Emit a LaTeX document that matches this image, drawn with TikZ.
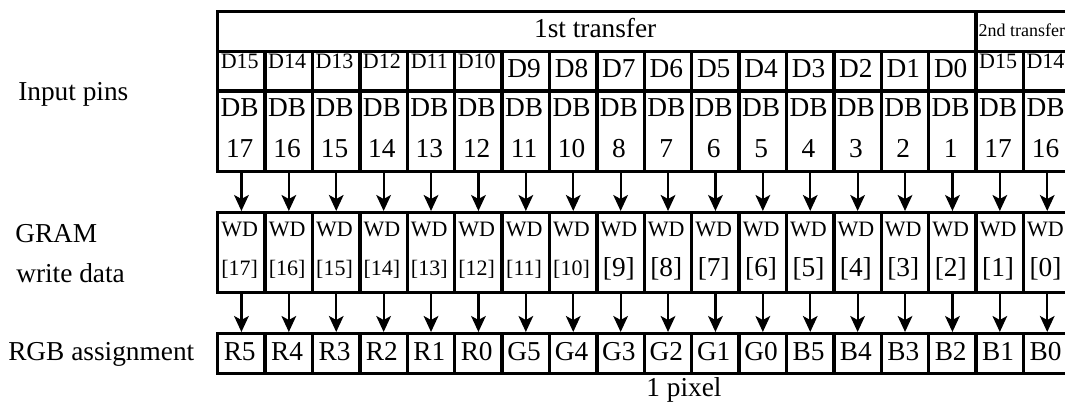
\documentclass[tikz,border=0pt]{standalone}
\usepackage{fontspec}
\setmainfont{Liberation Serif}
\usetikzlibrary{arrows.meta}
\begin{document}
\begin{tikzpicture}[x=0.75pt,y=-0.75pt,
  cell/.style={draw, line width=2.6pt, inner sep=0pt, minimum width=35.55pt},
  big/.style={font=\fontsize{20.5}{24}\selectfont, inner sep=0pt, anchor=base},
  small/.style={font=\fontsize{16.5}{19}\selectfont, inner sep=0pt, anchor=base},
  tiny/.style={font=\fontsize{13.5}{16}\selectfont, inner sep=0pt, anchor=base},
  rowlabel/.style={font=\fontsize{20.5}{24}\selectfont, inner sep=0pt, anchor=base west},
  flow/.style={line width=1.7pt, -{Stealth[length=12pt,width=11pt,inset=3pt]}}]
\useasboundingbox (0,0) rectangle (1065,408);
\clip (0,0) rectangle (1065,408);
\def\xl{216}
\def\cw{47.4}

% row titles
\node[rowlabel] (lin)  at (18,100) {Input pins};
\node[rowlabel] (lgr)  at (15,242) {GRAM};
\node[rowlabel] (lwd)  at (16,282) {write data};
\node[rowlabel] (lrgb) at (8,360)  {RGB assignment};

% transfer header
\node[cell, anchor=north west, minimum width=16*35.55pt, minimum height=30pt] (t1) at (\xl,10) {};
\node[cell, anchor=north west, minimum width=2*35.55pt, minimum height=30pt] (t2) at (\xl+16*\cw,10) {};
\node[big]  (t1txt) at (\xl+8*\cw,37) {1st transfer};
\node[tiny] (t2txt) at (\xl+17*\cw,36) {2nd transfer};

% cell rows: data pins, bus pins, write data, colour bits
\foreach \i in {0,...,17}{
  \node[cell, anchor=north west, minimum height=29.6pt] (d\i)  at (\xl+\i*\cw,50)   {};
  \node[cell, anchor=north west, minimum height=60pt]   (db\i) at (\xl+\i*\cw,89.5) {};
  \node[cell, anchor=north west, minimum height=60pt]   (wd\i) at (\xl+\i*\cw,211)  {};
  \node[cell, anchor=north west, minimum height=30pt]   (c\i)  at (\xl+\i*\cw,332)  {};
  \draw[flow] (db\i.south) -- (wd\i.north);
  \draw[flow] (wd\i.south) -- (c\i.north);
  \node[big]   (dbt\i) at (\xl+\i*\cw+\cw/2,116) {DB};
  \node[small] (wdt\i) at (\xl+\i*\cw+\cw/2,236) {WD};
}

% data pin names
\foreach \lab [count=\n from 0] in {D15,D14,D13,D12,D11,D10}
  \node[small] (dp\n) at (\xl+\n*\cw+\cw/2,68) {\lab};
\foreach \lab [count=\n from 6] in {D9,D8,D7,D6,D5,D4,D3,D2,D1,D0}
  \node[big] (dp\n) at (\xl+\n*\cw+\cw/2,77) {\lab};
\foreach \lab [count=\n from 16] in {D15,D14}
  \node[small] (dp\n) at (\xl+\n*\cw+\cw/2,68) {\lab};

% bus pin numbers
\foreach \lab [count=\n from 0] in {17,16,15,14,13,12,11,10,8,7,6,5,4,3,2,1,17,16}
  \node[big] (dbn\n) at (\xl+\n*\cw+\cw/2,157) {\lab};

% write data indices
\foreach \lab [count=\n from 0] in {17,16,15,14,13,12,11,10}
  \node[small] (wdn\n) at (\xl+\n*\cw+\cw/2,275) {[\lab]};
\foreach \lab [count=\n from 8] in {9,8,7,6,5,4,3,2,1,0}
  \node[big] (wdn\n) at (\xl+\n*\cw+\cw/2,276) {[\lab]};

% colour bits
\foreach \lab [count=\n from 0] in {R5,R4,R3,R2,R1,R0,G5,G4,G3,G2,G1,G0,B5,B4,B3,B2,B1,B0}
  \node[big] (cb\n) at (\xl+\n*\cw+\cw/2,360) {\lab};

\node[big] (pix) at (684,396) {1 pixel};
\end{tikzpicture}
\end{document}
